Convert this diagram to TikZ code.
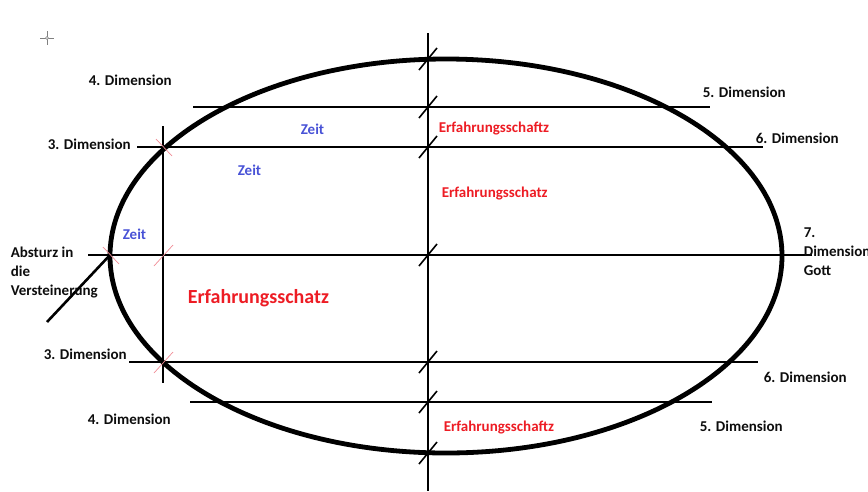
\documentclass[tikz,border=0pt]{standalone}
\usepackage{fontspec}
\setmainfont{Carlito}
\definecolor{erfred}{RGB}{237,28,36}
\definecolor{zeitblue}{RGB}{72,82,214}
\definecolor{markpink}{RGB}{240,140,150}
\tikzset{
  dimlabel/.style={font=\bfseries\fontsize{15}{19}\selectfont, inner sep=0pt, anchor=west, text=black!95, align=left},
  zeitlabel/.style={dimlabel, text=zeitblue},
  erflabel/.style={dimlabel, text=erfred},
  hatch/.style={line width=1.6pt},
  redcross/.style={markpink, line width=0.7pt}
}
\begin{document}
\begin{tikzpicture}[x=1pt, y=-1pt, line width=1.6pt]
    \useasboundingbox (0,0) rectangle (868,491);
    % cursor
    \draw[gray, line width=0.6pt] (40,38) -- (54,38) (47,31) -- (47,45);
    \draw[gray, fill=white, line width=0.5pt] (47,38) circle (1.5pt);
    % dimensions
    \foreach \y/\xa/\xb in {107/193/710, 147/137/763, 255/88/812, 362/129/758, 402/190/712}
        \draw (\xa,\y) -- (\xb,\y);
    \draw (428,33) -- (428,491);
    \draw (163,126) -- (163,383);
    \draw[line width=4.8pt] (446,256) ellipse [x radius=336pt, y radius=197pt];
    \draw[line width=2.6pt] (110,255) -- (47,322);
    \foreach \y in {59,107,147,255,362,402,453}
        \draw[hatch] (428,\y) ++(-9,11) -- ++(18,-22);
    \foreach \px/\py in {163/147, 110/255}
        \draw[redcross] (\px,\py) ++(-7,-8) -- ++(16,17);
    \foreach \px/\py in {163/255, 163/362}
        \draw[redcross] (\px,\py) ++(-9,11) -- ++(19,-21);
    % labels
    \node[dimlabel] (dim4top) at (88,80) {4. Dimension};
    \node[dimlabel] (dim3top) at (47,144) {3. Dimension};
    \node[dimlabel] (dim5top) at (702,92) {5. Dimension};
    \node[dimlabel] (dim6top) at (755,138) {6. Dimension};
    \node[dimlabel] (dim7) at (803,252) {7.\\Dimension\\Gott};
    \node[dimlabel] (absturz) at (10,273) {Absturz in\\die\\Versteinerung};
    \node[dimlabel] (dim3bot) at (43,354) {3. Dimension};
    \node[dimlabel] (dim4bot) at (87,419) {4. Dimension};
    \node[dimlabel] (dim6bot) at (763,377) {6. Dimension};
    \node[dimlabel] (dim5bot) at (699,426) {5. Dimension};
    \node[zeitlabel] (zeit1) at (300,129) {Zeit};
    \node[zeitlabel] (zeit2) at (237,170) {Zeit};
    \node[zeitlabel] (zeit3) at (122,234) {Zeit};
    \node[erflabel] (erf1) at (438,129) {Erfahrungsschaftz};
    \node[erflabel] (erf2) at (441,194) {Erfahrungsschatz};
    \node[erflabel] (erf3) at (443,428) {Erfahrungsschaftz};
    \node[erflabel, font=\bfseries\fontsize{20}{24}\selectfont] (erfbig) at (187,298) {Erfahrungsschatz};
\end{tikzpicture}
\end{document}
